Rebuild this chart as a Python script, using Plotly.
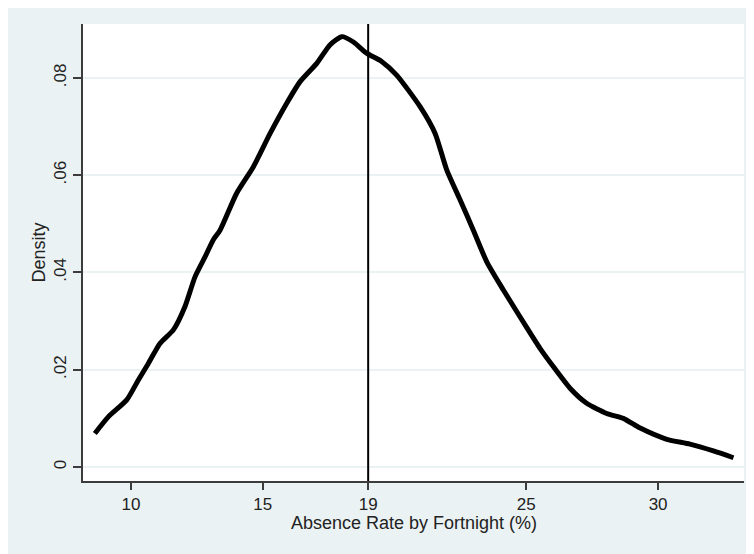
import plotly.graph_objects as go

# Density curve
absence_rate = [8.63, 9.14, 9.84, 10.28, 10.66, 11.10, 11.61, 12.05, 12.43, 12.81, 13.12,
                13.38, 14.01, 14.64, 15.28, 15.91, 16.41, 17.05, 17.55, 18.00, 18.44,
                18.94, 19.51, 20.08, 20.97, 21.54, 21.98, 22.49, 22.99, 23.50, 24.13,
                24.76, 25.27, 25.52, 26.03, 26.66, 27.29, 28.05, 28.68, 29.32, 30.33,
                31.21, 32.10, 32.86]
density = [0.0069, 0.0103, 0.0138, 0.0179, 0.0213, 0.0254, 0.0282, 0.0330, 0.0391, 0.0432, 0.0467,
           0.0487, 0.0563, 0.0617, 0.0686, 0.0748, 0.0792, 0.0830, 0.0868, 0.0885, 0.0874,
           0.0851, 0.0834, 0.0806, 0.0741, 0.0686, 0.0611, 0.0549, 0.0487, 0.0422, 0.0364,
           0.0309, 0.0265, 0.0244, 0.0206, 0.0162, 0.0131, 0.0110, 0.0100, 0.0080, 0.0057,
           0.0047, 0.0033, 0.0019]

mean_line = 19

x_tickvals = [10, 15, 19, 25, 30]
x_ticktext = ["10", "15", "19", "25", "30"]
y_tickvals = [0, 0.02, 0.04, 0.06, 0.08]
y_ticktext = ["0", ".02", ".04", ".06", ".08"]
x_title = "Absence Rate by Fortnight (%)"
y_title = "Density"

BG = "#EAF2F3"
AX = "#3c3c3c"
FONT = "Liberation Sans, Arial, sans-serif"

fig = go.Figure()
fig.add_trace(go.Scatter(
    x=absence_rate, y=density, mode="lines",
    line=dict(color="black", width=5, shape="spline", smoothing=0.6),
    showlegend=False, hoverinfo="skip"))

fig.add_shape(type="line", xref="x", yref="paper", x0=mean_line, x1=mean_line,
              y0=0, y1=1, line=dict(color="black", width=2), layer="above")

fig.add_annotation(text=x_title, xref="paper", yref="paper", x=0.5, y=0,
                   xanchor="center", yanchor="middle", yshift=-42, showarrow=False,
                   font=dict(size=18, color="#222"))

fig.update_layout(
    width=746, height=546,
    margin=dict(l=75, r=10, t=16, b=73, autoexpand=False),
    paper_bgcolor=BG, plot_bgcolor="white",
    font=dict(family=FONT, size=18, color="#222"),
    xaxis=dict(
        range=[8.18, 33.26], tickvals=x_tickvals, ticktext=x_ticktext,
        showgrid=False, zeroline=False, automargin=False,
        showline=True, linecolor=AX, linewidth=1.5,
        ticks="outside", ticklen=7, tickwidth=1.5, tickcolor=AX,
        ticklabelstandoff=0, tickfont=dict(size=17),
    ),
    yaxis=dict(
        range=[-0.00288, 0.0911], tickvals=y_tickvals, ticktext=y_ticktext,
        tickangle=-90, automargin=False,
        showgrid=True, gridcolor=BG, gridwidth=1.5, zeroline=False,
        showline=True, linecolor=AX, linewidth=1.5,
        ticks="outside", ticklen=8, tickwidth=1.5, tickcolor=AX,
        tickfont=dict(size=17),
        title=dict(text=y_title, font=dict(size=18), standoff=1),
    ),
)

fig.write_html("out.html")
